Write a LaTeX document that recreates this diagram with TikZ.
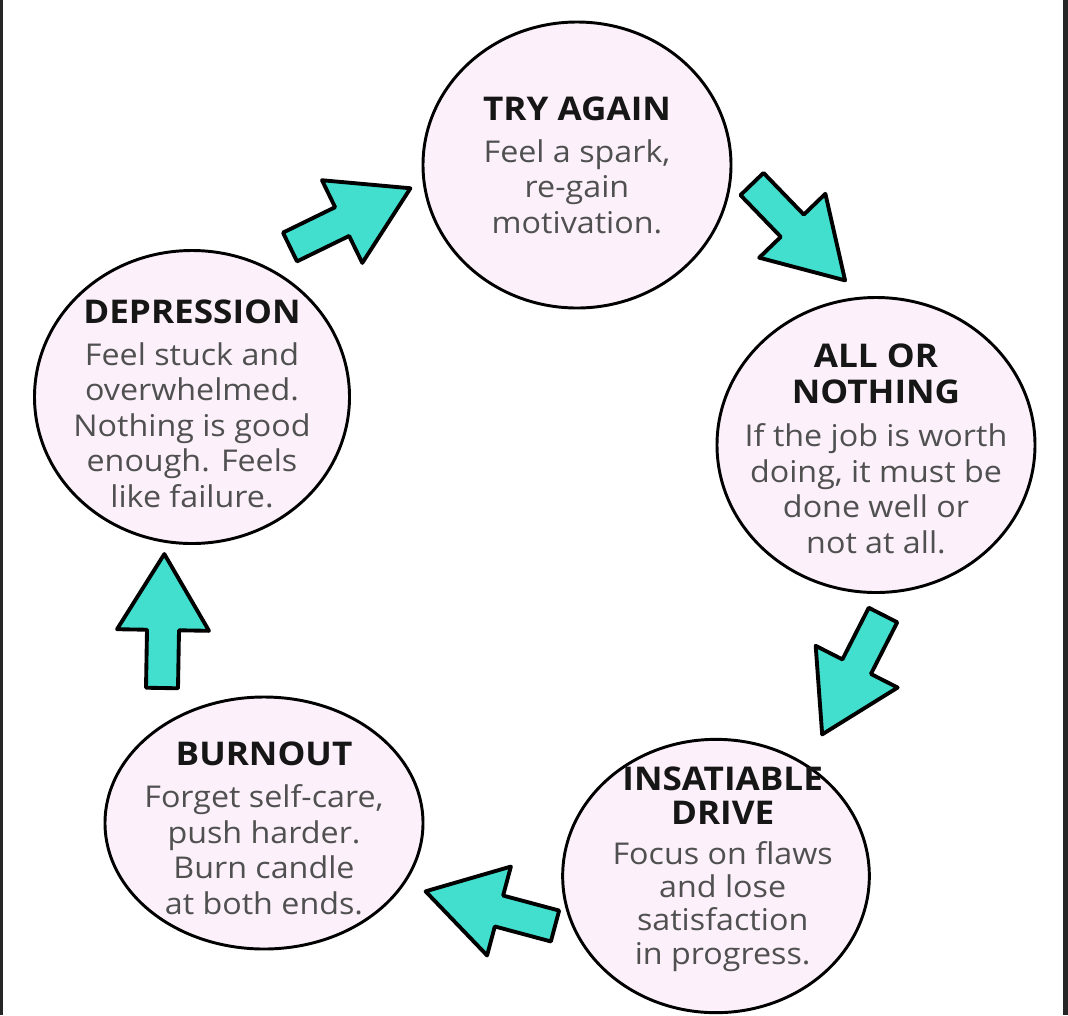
\documentclass[tikz,border=0pt]{standalone}
\usepackage{fontspec}
\setmainfont{Open Sans}[FakeStretch=1.075]
\usetikzlibrary{shapes.geometric}

\definecolor{bubblefill}{RGB}{252,241,250}
\definecolor{arrowteal}{RGB}{66,222,206}
\definecolor{bodygray}{RGB}{80,80,80}
\definecolor{titleblack}{RGB}{22,22,22}

\newcommand{\bodyfont}{\fontsize{22.5}{26.6}\selectfont}
\newcommand{\headfont}{\fontsize{24.5}{26.6}\selectfont\bfseries\color{titleblack}}

\begin{document}
\begin{tikzpicture}[
    x=0.75pt, y=-0.75pt,
    bubble/.style={
        ellipse, draw=black, line width=2.2pt, fill=bubblefill,
        inner sep=0pt
    },
    bubbletext/.style={
        align=center, inner sep=0pt, font=\bodyfont, text=bodygray
    },
    cyclearrow/.pic={
        \draw[draw=black, line width=2.9pt, line join=round, fill=arrowteal]
            (0,-16) -- (58,-16) -- (58,-46) -- (134,0) -- (58,46)
            -- (58,16) -- (0,16) -- cycle;
    },
]
\useasboundingbox (0,0) rectangle (1068,1015);
\fill[white] (0,0) rectangle (1068,1015);
\fill[black!85] (0,0) rectangle (3,1015);
\fill[black!85] (1063,0) rectangle (1068,1015);

% the five stages
\node[bubble, minimum width=231pt, minimum height=214.5pt] (try) at (577,165) {};
\node[bubble, minimum width=238.5pt, minimum height=221.25pt] (all) at (876,445) {};
\node[bubble, minimum width=230pt, minimum height=205pt] (ins) at (716,876) {};
\node[bubble, minimum width=238.5pt, minimum height=189pt] (burn) at (264,823) {};
\node[bubble, minimum width=236.25pt, minimum height=219.75pt] (dep) at (192,397) {};

\node[bubbletext] (try-text) at (try)
    {{\headfont TRY AGAIN}\\[5pt] Feel a spark,\\ re-gain\\ motivation.};
\node[bubbletext, yshift=-3pt] (all-text) at (all)
    {{\headfont ALL OR}\\ {\headfont NOTHING}\\[6pt] If the job is worth\\
     doing, it must be\\ done well or\\ not at all.};
\node[bubbletext, xshift=5pt, yshift=5pt,
      font=\fontsize{22.5}{25}\selectfont] (ins-text) at (ins)
    {{\headfont INSATIABLE}\\ {\headfont DRIVE}\\[5pt] Focus on flaws\\
     and lose\\ satisfaction\\ in progress.};
\node[bubbletext, yshift=-4pt] (burn-text) at (burn)
    {{\headfont BURNOUT}\\[5pt] Forget self-care,\\ push harder.\\
     Burn candle\\ at both ends.};
\node[bubbletext, yshift=-5pt] (dep-text) at (dep)
    {{\headfont DEPRESSION}\\[5pt] Feel stuck and\\ overwhelmed.\\
     Nothing is good\\ enough. Feels\\ like failure.};

% arrows round the cycle
\pic[rotate=-46] (try-all) at (752,184) {cyclearrow};
\pic[rotate=-117] (all-ins) at (883,615) {cyclearrow};
\pic[rotate=165] (ins-burn) at (555,926) {cyclearrow};
\pic[rotate=89] (burn-dep) at (162,688) {cyclearrow};
\pic[rotate=26] (dep-try) at (290,247) {cyclearrow};
\end{tikzpicture}
\end{document}
